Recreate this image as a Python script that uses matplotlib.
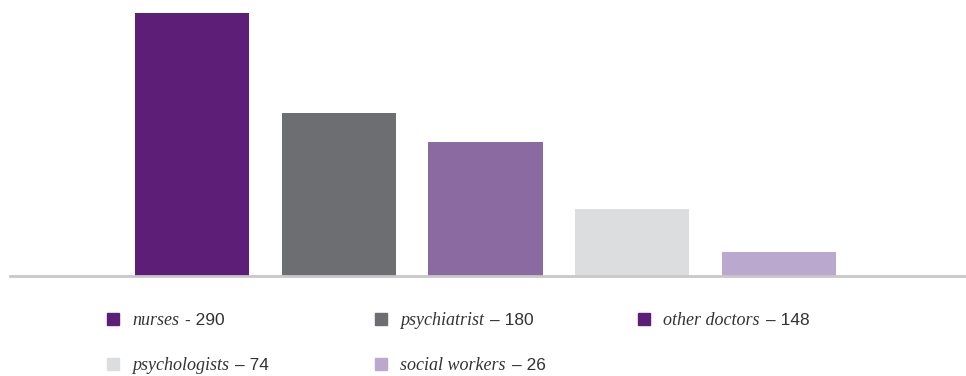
import matplotlib
matplotlib.use('Agg')
import matplotlib.pyplot as plt
from matplotlib.patches import Rectangle

# staff numbers by profession
categories = ['nurses', 'psychiatrist', 'other doctors', 'psychologists', 'social workers']
values = [290, 180, 148, 74, 26]
bar_colors = ['#5c1e76', '#6d6e71', '#8a6aa0', '#dcdddf', '#bba8cf']
key_colors = ['#5c1e76', '#6d6e71', '#5c1e76', '#dcdddf', '#bba8cf']
separators = ['-', '–', '–', '–', '–']

W, H = 966, 376
fig = plt.figure(figsize=(W / 100, H / 100), dpi=100)

# axes spans from the baseline up to the top of the tallest bar
ax = fig.add_axes([10 / W, (H - 276) / H, 956 / W, 263 / H])
x = list(range(len(categories)))
ax.bar(x, values, width=0.777, color=bar_colors)
ax.set_xlim(-1.24, 5.274)
ax.set_ylim(0, 290)
ax.axis('off')
ax.axhline(0, color='#c8c8c8', linewidth=2, clip_on=False)

# legend drawn by hand: square, italic name, then the count in sans
key_pos = [(107, 325), (375, 325), (638, 325), (107, 370), (375, 370)]
fig.canvas.draw()
renderer = fig.canvas.get_renderer()
for (px, py), col, name, sep, val in zip(key_pos, key_colors, categories, separators, values):
    fig.patches.append(Rectangle((px / W, (H - py) / H), 12 / W, 12 / H,
                                 transform=fig.transFigure, color=col))
    t = fig.text((px + 25) / W, (H - py) / H, name, family='Liberation Serif',
                 style='italic', size=13, va='baseline', color='#333333')
    bb = t.get_window_extent(renderer)
    fig.text(bb.x1 / W + 6 / W, (H - py) / H, f'{sep} {val}', family='Liberation Sans',
             size=12.5, va='baseline', color='#333333')

fig.savefig('out.png', dpi=100)
